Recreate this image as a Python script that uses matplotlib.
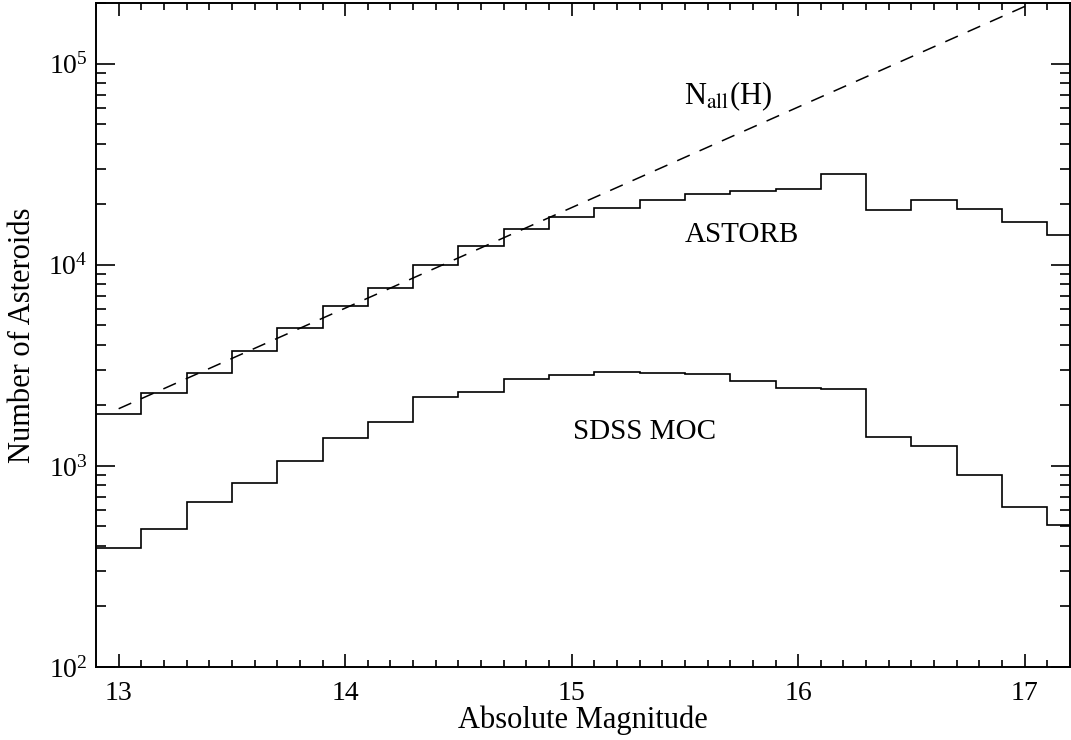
import matplotlib
matplotlib.use('Agg')
import matplotlib.pyplot as plt
from matplotlib.ticker import LogLocator, MultipleLocator, FixedLocator

plt.rcParams['font.family'] = ['Liberation Serif', 'DejaVu Serif']
plt.rcParams['mathtext.fontset'] = 'stix'

# bin edges in absolute magnitude H (0.2 mag bins)
h_edges = [12.9, 13.1, 13.3, 13.5, 13.7, 13.9, 14.1, 14.3, 14.5, 14.7, 14.9, 15.1,
           15.3, 15.5, 15.7, 15.9, 16.1, 16.3, 16.5, 16.7, 16.9, 17.1, 17.3]

astorb_counts = [1810, 2300, 2890, 3710, 4820, 6250, 7690, 9960, 12350, 15070, 17270,
                 19230, 21060, 22370, 23340, 23700, 28280, 18620, 21060, 18830, 16370, 14060]

sdss_counts = [389, 487, 664, 826, 1059, 1374, 1656, 2188, 2328, 2710, 2838,
               2938, 2904, 2871, 2637, 2442, 2397, 1394, 1253, 899, 624, 510]

# power law N_all(H), given by its two end points
nall_h = [13.0, 17.2]
nall_n = [1923, 242000]

fig = plt.figure(figsize=(10.71, 7.40), dpi=100)
ax = fig.add_axes([96 / 1071, 73 / 740, 974 / 1071, 664 / 740])

ax.stairs(astorb_counts, h_edges, baseline=None, color='black', lw=1.2)
ax.stairs(sdss_counts, h_edges, baseline=None, color='black', lw=1.2)
ax.plot(nall_h, nall_n, color='black', lw=1.1, dashes=(9, 7))

ax.set_yscale('log')
ax.set_xlim(12.9, 17.2)
ax.set_ylim(100, 2.0e5)

ax.xaxis.set_major_locator(MultipleLocator(1))
ax.xaxis.set_minor_locator(MultipleLocator(0.1))
ax.yaxis.set_major_locator(FixedLocator([1e2, 1e3, 1e4, 1e5]))
ax.yaxis.set_minor_locator(LogLocator(base=10, subs=range(2, 10)))

ax.tick_params(which='both', direction='in', top=True, right=True, width=1.2, labelsize=20)
ax.tick_params(axis='x', which='major', length=9.5, pad=10)
ax.tick_params(axis='x', which='minor', length=5)
ax.tick_params(axis='y', which='major', length=13.5, pad=6)
ax.tick_params(axis='y', which='minor', length=7)
for s in ax.spines.values():
    s.set_linewidth(1.4)

ax.set_xlabel('Absolute Magnitude', fontsize=22, labelpad=0)
ax.set_ylabel('Number of Asteroids', fontsize=22, labelpad=8)

ax.text(15.69, 6.86e4, r'N$_{\rm all}$(H)', fontsize=22, ha='center', va='center')
ax.text(15.75, 1.41e4, 'ASTORB', fontsize=21, ha='center', va='center')
ax.text(15.32, 1.475e3, 'SDSS MOC', fontsize=21, ha='center', va='center')

fig.savefig('out.png', dpi=100)
